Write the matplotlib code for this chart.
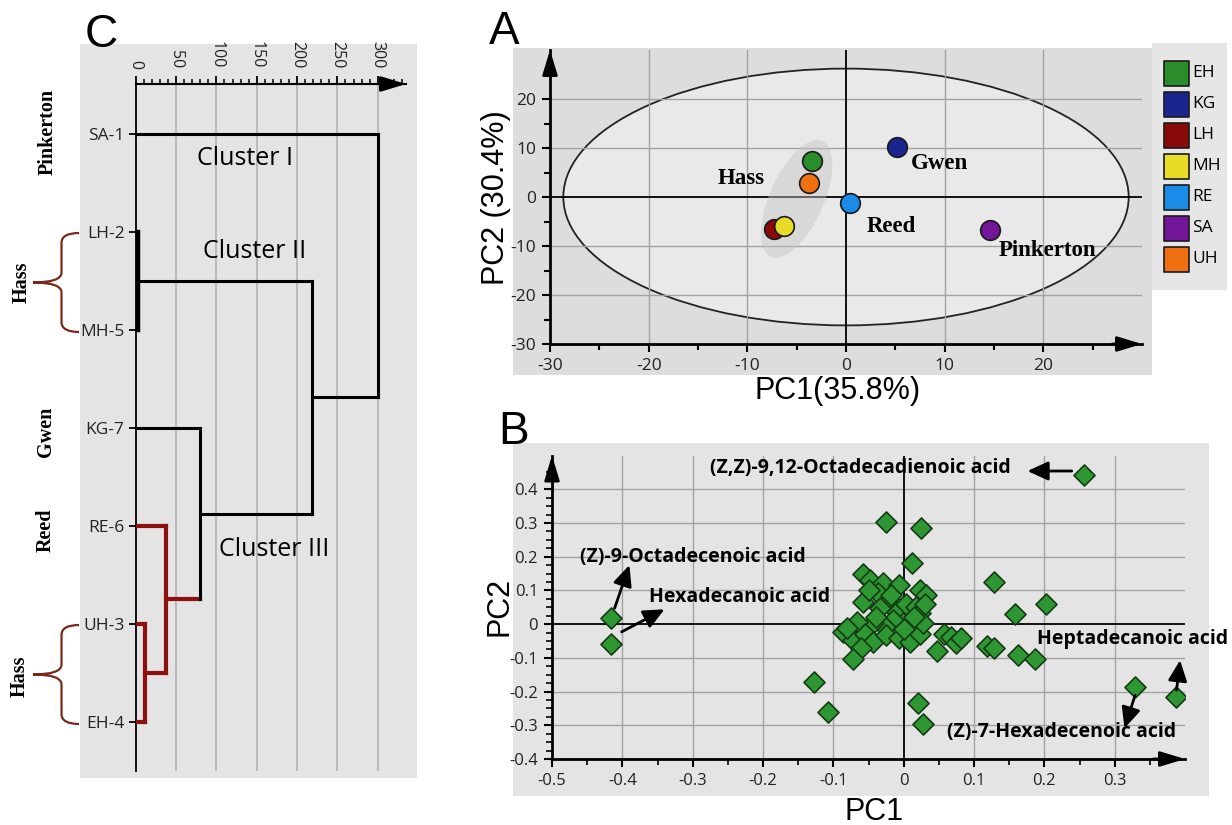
import numpy as np
import matplotlib
matplotlib.use('Agg')
import matplotlib.pyplot as plt
from matplotlib.patches import Rectangle, Ellipse, Polygon, PathPatch
from matplotlib.path import Path

plt.rcParams['axes.unicode_minus'] = False

# ---------------- data ----------------
# Panel A : PCA scores
pca_groups = ['EH', 'KG', 'LH', 'MH', 'RE', 'SA', 'UH']
pca_colors = ['#2a8c2a', '#1a2590', '#8a0a0a', '#e8dc28', '#1a8ce8', '#74169a', '#ee7010']
pc1_scores = [-3.4, 5.2, -7.3, -6.3, 0.4, 14.6, -3.7]
pc2_scores = [7.3, 10.2, -6.5, -5.9, -1.3, -6.7, 2.9]
cultivar_names = ['Hass', 'Gwen', 'Reed', 'Pinkerton']
cultivar_x = [-10.6, 9.5, 4.6, 20.4]
cultivar_y = [3.7, 6.9, -6.1, -11.0]
a_ticks = [-30, -20, -10, 0, 10, 20]

# Panel B : PCA loadings
load_pc1 = [-0.416, -0.416, -0.127, -0.107, 0.257, -0.025, 0.025, 0.012,
            0.128, 0.203, 0.158, 0.387, 0.329, 0.021, 0.027, 0.047, 0.058, 0.068,
            0.075, 0.082, 0.118, 0.128, 0.162, 0.187,
            -0.058, -0.048, -0.029, -0.006, -0.058, -0.036, -0.020, 0.023, 0.032,
            -0.034, -0.010, 0.004, 0.018, 0.023, 0.013, -0.001, -0.015, -0.027,
            -0.044, -0.067, -0.086, -0.072, -0.055, -0.044, -0.025, -0.006, 0.009,
            0.023, 0.027, -0.060, -0.072, -0.080, 0.015, -0.040, 0.030, -0.050,
            0.000, -0.018]
load_pc2 = [0.018, -0.060, -0.172, -0.262, 0.442, 0.304, 0.285, 0.180,
            0.126, 0.059, 0.030, -0.216, -0.186, -0.233, -0.297, -0.079, -0.030, -0.038,
            -0.057, -0.042, -0.065, -0.072, -0.092, -0.104,
            0.150, 0.130, 0.121, 0.116, 0.066, 0.091, 0.071, 0.101, 0.086,
            0.047, 0.037, 0.061, 0.051, 0.032, 0.002, 0.002, 0.012, -0.008,
            0.002, 0.007, -0.023, -0.047, -0.028, -0.052, -0.033, -0.042, -0.052,
            -0.028, 0.002, -0.072, -0.102, -0.012, 0.020, 0.020, 0.060, 0.100,
            -0.015, 0.085]
compound_names = ['(Z,Z)-9,12-Octadecadienoic acid', '(Z)-9-Octadecenoic acid',
                  'Hexadecanoic acid', 'Heptadecanoic acid', '(Z)-7-Hexadecenoic acid']
b_xticks = [-0.5, -0.4, -0.3, -0.2, -0.1, 0, 0.1, 0.2, 0.3]
b_yticks = [-0.4, -0.3, -0.2, -0.1, 0, 0.1, 0.2, 0.3, 0.4]

# Panel C : dendrogram
leaf_labels = ['SA-1', 'LH-2', 'MH-5', 'KG-7', 'RE-6', 'UH-3', 'EH-4']
leaf_colors = ['k', 'k', 'k', 'k', '#8c1010', '#8c1010', '#8c1010']
merge_first = [5, 1, 4, 3, 8, 0]
merge_second = [6, 2, 7, 9, 10, 11]
merge_height = [11.5, 2.5, 38, 80, 218, 300]
merge_color = ['#8c1010', 'k', '#8c1010', 'k', 'k', 'k']
cluster_names = ['Cluster I', 'Cluster II', 'Cluster III']
cluster_x = [136, 148, 172]
cluster_y = [0.25, 1.2, 4.24]
c_ticks = [0, 50, 100, 150, 200, 250, 300]

# ---------------- styles ----------------
W, H = 1232, 825
SANS = ['Open Sans', 'DejaVu Sans']
ARIAL = ['Liberation Sans', 'DejaVu Sans']
SERIF = ['Liberation Serif', 'DejaVu Serif']
BG = '#e4e4e4'
GRID = '#a2a2a2'

fig = plt.figure(figsize=(W / 100, H / 100), dpi=100)
fig.patch.set_facecolor('white')


def fr(x0, y0, x1, y1):
    return [x0 / W, 1 - y1 / H, (x1 - x0) / W, (y1 - y0) / H]


def fx(x):
    return x / W


def fy(y):
    return 1 - y / H


for (x0, y0, x1, y1, c) in [(80, 44, 417, 778, BG), (513, 48, 1152, 375, '#dddddd'),
                            (1152, 43, 1227, 290, '#e6e6e6'), (513, 443, 1209, 796, BG)]:
    fig.patches.append(Rectangle((x0 / W, 1 - y1 / H), (x1 - x0) / W, (y1 - y0) / H,
                                 transform=fig.transFigure, facecolor=c, edgecolor='none', zorder=-5))


def arrow_axes(ax, horizontal_at_top=False, y_arrow=True):
    kw = dict(arrowstyle='-|>,head_length=1.25,head_width=0.38', color='k', lw=2,
              shrinkA=0, shrinkB=0, mutation_scale=12)
    if horizontal_at_top:
        ax.annotate('', xy=(1.0, 1.0), xytext=(0.95, 1.0), xycoords='axes fraction',
                    arrowprops=kw, annotation_clip=False)
    else:
        ax.annotate('', xy=(1.0, 0.0), xytext=(0.95, 0.0), xycoords='axes fraction',
                    arrowprops=kw, annotation_clip=False)
    if y_arrow:
        ax.annotate('', xy=(0.0, 1.0), xytext=(0.0, 0.95), xycoords='axes fraction',
                    arrowprops=kw, annotation_clip=False)


# ---------------- Panel A ----------------
axA = fig.add_axes(fr(550, 50, 1142, 344))
axA.set_facecolor('none')
axA.set_xlim(-30, 30)
axA.set_ylim(-30, 30)
axA.add_patch(Ellipse((0, 0), 57.3, 52.4, facecolor='#e9e9e9', edgecolor='#222222', lw=1.3, zorder=1))
for v in [-20, -10, 10, 20]:
    axA.axvline(v, color=GRID, lw=1, zorder=1.5)
    axA.axhline(v, color=GRID, lw=1, zorder=1.5)
axA.axvline(0, color='k', lw=1.3, zorder=2)
axA.axhline(0, color='k', lw=1.3, zorder=2)
t = np.linspace(0, 2 * np.pi, 200)
cx, cy = -5.0, -0.4
hx = cx + 2.6 * np.cos(t) + 2.5 * np.sin(t)
hy = cy + 11.8 * np.cos(t) - 2.24 * np.sin(t)
axA.add_patch(Polygon(np.column_stack([hx, hy]), closed=True, facecolor='#c4c4c4',
                      alpha=0.45, edgecolor='none', zorder=2.2))
for g, c, x, y in zip(pca_groups, pca_colors, pc1_scores, pc2_scores):
    axA.scatter(x, y, s=200, color=c, edgecolor='#1a1a1a', lw=1.2, zorder=3)
for n, x, y in zip(cultivar_names, cultivar_x, cultivar_y):
    axA.text(x, y, n, family=SERIF, fontweight='bold', fontsize=16.5, ha='center',
             va='center', zorder=4)
for s in ['top', 'right']:
    axA.spines[s].set_visible(False)
for s in ['left', 'bottom']:
    axA.spines[s].set_linewidth(2)
axA.set_xticks(a_ticks)
axA.set_yticks(a_ticks)
axA.set_xticks([-25, -15, -5, 5, 15, 25], minor=True)
axA.set_yticks([-25, -15, -5, 5, 15, 25], minor=True)
axA.tick_params(which='major', direction='out', length=6, width=1.5, labelsize=12.5, pad=4)
axA.tick_params(which='minor', direction='out', length=4, width=1.5)
for lab in axA.get_xticklabels() + axA.get_yticklabels():
    lab.set_family(SANS)
    lab.set_color('#222222')
arrow_axes(axA)
fig.text(fx(496), fy(198), 'PC2 (30.4%)', rotation=90, ha='center', va='center',
         fontsize=22, family=ARIAL)
fig.text(fx(838), fy(391), 'PC1(35.8%)', ha='center', va='center', fontsize=22, family=ARIAL)
fig.text(fx(504), fy(32), 'A', ha='center', va='center', fontsize=33, family=ARIAL)

# legend
axL = fig.add_axes(fr(1152, 43, 1227, 290))
axL.set_axis_off()
axL.set_xlim(1152, 1227)
axL.set_ylim(290, 43)
for i, (g, c) in enumerate(zip(pca_groups, pca_colors)):
    yy = 72.7 + 31 * i
    axL.scatter(1175.7, yy, marker='s', s=324, color=c, edgecolor='#1a1a1a', lw=1.2)
    axL.text(1192.5, yy, g, family=SANS, fontsize=12.5, va='center', ha='left')

# ---------------- Panel B ----------------
axB = fig.add_axes(fr(552, 455.5, 1185, 759))
axB.set_facecolor('none')
axB.set_xlim(-0.5, 0.4)
axB.set_ylim(-0.4, 0.5)
for v in [-0.4, -0.3, -0.2, -0.1, 0.1, 0.2, 0.3]:
    axB.axvline(v, color=GRID, lw=1, zorder=1)
for v in [-0.3, -0.2, -0.1, 0.1, 0.2, 0.3, 0.4]:
    axB.axhline(v, color=GRID, lw=1, zorder=1)
axB.axvline(0, color='k', lw=1.3, zorder=2)
axB.axhline(0, color='k', lw=1.3, zorder=2)
axB.scatter(load_pc1, load_pc2, marker='D', s=115, color='#2e9632', edgecolor='#143c14',
            lw=1.2, zorder=3)
ann_text_xy = [(-0.061, 0.463), (-0.299, 0.200), (-0.234, 0.081), (0.325, -0.043), (0.225, -0.321)]
ann_tail = [(0.239, 0.454), (-0.411, 0.047), (-0.401, -0.023), (0.388, -0.196), (0.329, -0.211)]
ann_head = [(0.176, 0.454), (-0.390, 0.175), (-0.340, 0.044), (0.393, -0.107), (0.314, -0.309)]
akw = dict(arrowstyle='-|>,head_length=0.7,head_width=0.32', color='k', lw=2,
           shrinkA=0, shrinkB=0, mutation_scale=18)
for n, txy, tl, hd in zip(compound_names, ann_text_xy, ann_tail, ann_head):
    axB.text(txy[0], txy[1], n, family=SANS, fontweight='bold', fontsize=14,
             ha='center', va='center', zorder=5, clip_on=False)
    axB.annotate('', xy=hd, xytext=tl, arrowprops=akw, zorder=5, annotation_clip=False)
for s in ['top', 'right']:
    axB.spines[s].set_visible(False)
for s in ['left', 'bottom']:
    axB.spines[s].set_linewidth(2)
axB.set_xticks(b_xticks)
axB.set_xticklabels(['-0.5', '-0.4', '-0.3', '-0.2', '-0.1', '0', '0.1', '0.2', '0.3'])
axB.set_yticks(b_yticks)
axB.set_yticklabels(['-0.4', '-0.3', '-0.2', '-0.1', '0', '0.1', '0.2', '0.3', '0.4'])
axB.set_xticks(np.arange(-0.45, 0.4, 0.1), minor=True)
axB.set_yticks(np.arange(-0.4, 0.451, 0.025), minor=True)
axB.tick_params(which='major', direction='out', length=6, width=1.5, labelsize=12, pad=4)
axB.tick_params(which='minor', direction='out', length=4, width=1.2)
for lab in axB.get_xticklabels() + axB.get_yticklabels():
    lab.set_family(SANS)
    lab.set_color('#222222')
arrow_axes(axB)
fig.text(fx(499), fy(607), 'PC2', rotation=90, ha='center', va='center', fontsize=22, family=ARIAL)
fig.text(fx(874), fy(812), 'PC1', ha='center', va='center', fontsize=22, family=ARIAL)
fig.text(fx(514), fy(432), 'B', ha='center', va='center', fontsize=33, family=ARIAL)

# ---------------- Panel C ----------------
axC = fig.add_axes(fr(135.7, 84, 406, 771))
axC.set_facecolor('none')
axC.set_xlim(0, 335)
axC.set_ylim(6.5, -0.51)
for v in c_ticks[1:]:
    axC.axvline(v, color='#b2b2b2', lw=1.2, zorder=1)
node_y = list(range(len(leaf_labels)))
node_h = [0.0] * len(leaf_labels)
node_c = list(leaf_colors)


def lw_of(c):
    return 3.0 if c != 'k' else 2.2


for a, b, h, c in zip(merge_first, merge_second, merge_height, merge_color):
    ya, yb = node_y[a], node_y[b]
    axC.plot([node_h[a], h], [ya, ya], color=node_c[a], lw=lw_of(node_c[a]),
             solid_capstyle='projecting', zorder=3)
    axC.plot([node_h[b], h], [yb, yb], color=node_c[b], lw=lw_of(node_c[b]),
             solid_capstyle='projecting', zorder=3)
    axC.plot([h, h], [ya, yb], color=c, lw=lw_of(c) + (1.0 if h < 5 else 0),
             solid_capstyle='projecting', zorder=3)
    node_y.append((ya + yb) / 2)
    node_h.append(h)
    node_c.append(c)
for n, x, y in zip(cluster_names, cluster_x, cluster_y):
    axC.text(x, y, n, family=SANS, fontsize=18, ha='center', va='center', zorder=4)
for s in ['bottom', 'right']:
    axC.spines[s].set_visible(False)
axC.spines['top'].set_linewidth(1.5)
axC.spines['left'].set_linewidth(1.3)
axC.xaxis.tick_top()
axC.set_xticks(c_ticks)
axC.set_xticklabels([str(v) for v in c_ticks], rotation=-90)
axC.set_xticks([v for v in range(10, 331, 10) if v % 50 != 0], minor=True)
axC.set_yticks(range(len(leaf_labels)))
axC.set_yticklabels(leaf_labels)
axC.tick_params(axis='x', which='major', direction='out', length=6, width=1.3, labelsize=11.5, pad=5)
axC.tick_params(axis='x', which='minor', direction='out', length=3.5, width=1.1)
axC.tick_params(axis='y', direction='out', length=5, width=1.3, labelsize=12.5, pad=3)
for lab in axC.get_xticklabels() + axC.get_yticklabels():
    lab.set_family(SANS)
    lab.set_color('#222222')
arrow_axes(axC, horizontal_at_top=True, y_arrow=False)
fig.text(fx(101), fy(35), 'C', ha='center', va='center', fontsize=33, family=ARIAL)

# cultivar group labels on the left
group_labels = ['Pinkerton', 'Hass', 'Gwen', 'Reed', 'Hass']
group_px = [(48, 132), (22, 282), (46, 432), (46, 530), (20, 676)]
for n, (x, y) in zip(group_labels, group_px):
    fig.text(fx(x), fy(y), n, rotation=90, ha='center', va='center', family=SERIF,
             fontweight='bold', fontsize=14.5)


def brace(x_tip, x_end, y_top, y_bot, color='#7a2a1a'):
    xm = x_tip + 0.62 * (x_end - x_tip)
    ym = (y_top + y_bot) / 2
    r = 10
    P = lambda x, y: (fx(x), fy(y))
    verts = [P(x_end, y_top), P(xm, y_top), P(xm, y_top + r), P(xm, ym - r),
             P(xm, ym), P(x_tip, ym),
             P(x_tip, ym), P(xm, ym), P(xm, ym + r), P(xm, y_bot - r),
             P(xm, y_bot), P(x_end, y_bot)]
    codes = [Path.MOVETO, Path.CURVE3, Path.CURVE3, Path.LINETO, Path.CURVE3, Path.CURVE3,
             Path.MOVETO, Path.CURVE3, Path.CURVE3, Path.LINETO, Path.CURVE3, Path.CURVE3]
    fig.patches.append(PathPatch(Path(verts, codes), transform=fig.transFigure,
                                 facecolor='none', edgecolor=color, lw=1.6, zorder=5))


brace(33, 79, 233, 332)
brace(33, 79, 625, 724)

fig.savefig('out.png', dpi=100, facecolor='white')
